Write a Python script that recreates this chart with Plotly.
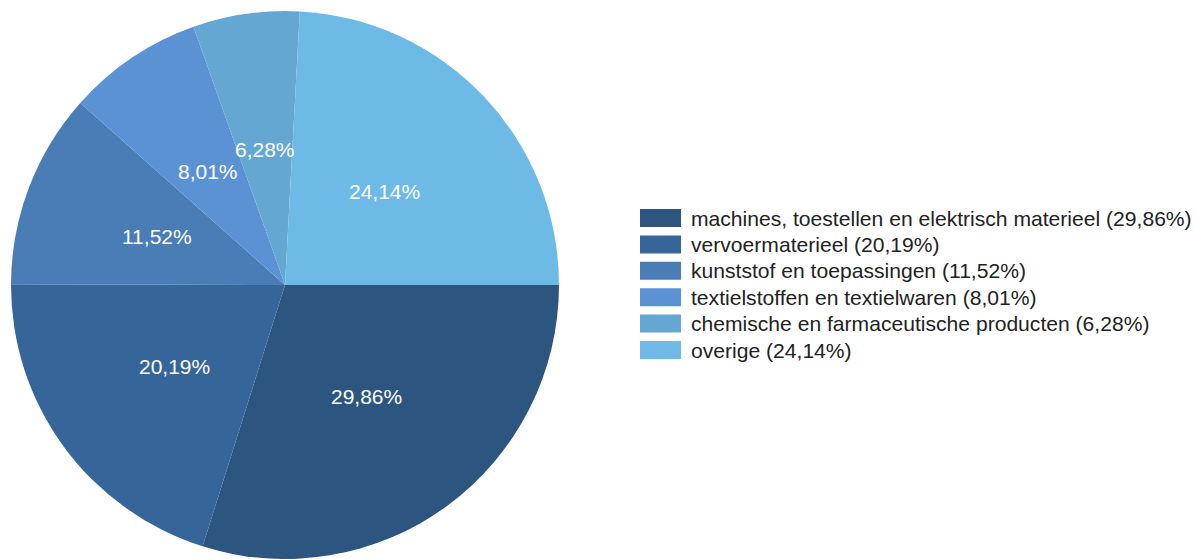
import math
import plotly.graph_objects as go

categories = [
    "machines, toestellen en elektrisch materieel",
    "vervoermaterieel",
    "kunststof en toepassingen",
    "textielstoffen en textielwaren",
    "chemische en farmaceutische producten",
    "overige",
]
values = [29.86, 20.19, 11.52, 8.01, 6.28, 24.14]
colors = ["#2c5680", "#366599", "#4a7db5", "#5a92d4", "#65a7d3", "#6dbae6"]

W, H = 1195, 559
CX, CY, R = 285, 285.5, 274.5


def fmt(v):
    return f"{v:.2f}".replace(".", ",") + "%"


fig = go.Figure(
    go.Pie(
        labels=categories,
        values=values,
        marker=dict(colors=colors, line=dict(width=0)),
        sort=False,
        direction="clockwise",
        rotation=90,
        textinfo="none",
        hoverinfo="label+percent",
        showlegend=False,
        domain=dict(x=[(CX - R) / W, (CX + R) / W],
                    y=[max(0, (H - CY - R) / H), min(1, (H - CY + R) / H)]),
    )
)

annotations = []
shapes = []
total = sum(values)
cum = 0.0
for v in values:
    mid = (cum + v / 2) / total * 2 * math.pi
    cum += v
    px = CX + 0.5 * R * math.cos(mid)
    py = CY + 0.5 * R * math.sin(mid)
    annotations.append(dict(
        x=px / W, y=1 - py / H, xref="paper", yref="paper",
        text=fmt(v), showarrow=False, xanchor="center", yanchor="middle",
        font=dict(family="Liberation Sans, Arial, sans-serif", size=21, color="white"),
    ))

LX0, LX1, LTOP, LH, LSTEP = 640, 681, 209, 18, 26.4
for i, (c, v, col) in enumerate(zip(categories, values, colors)):
    top = LTOP + i * LSTEP
    shapes.append(dict(
        type="rect", xref="paper", yref="paper",
        x0=LX0 / W, x1=LX1 / W, y0=1 - top / H, y1=1 - (top + LH) / H,
        fillcolor=col, line=dict(width=0),
    ))
    annotations.append(dict(
        x=689 / W, y=1 - (top + LH / 2) / H, xref="paper", yref="paper",
        text=f"{c} ({fmt(v)})", showarrow=False, xanchor="left", yanchor="middle",
        font=dict(family="Liberation Sans, Arial, sans-serif", size=21.1, color="#222222"),
    ))

fig.update_layout(
    width=W, height=H,
    margin=dict(l=0, r=0, t=0, b=0),
    paper_bgcolor="white", plot_bgcolor="white",
    annotations=annotations, shapes=shapes,
)

fig.write_html(
    "out.html",
    config={"displayModeBar": False},
    post_script="document.body.style.margin='0';document.body.style.overflow='hidden';",
)
